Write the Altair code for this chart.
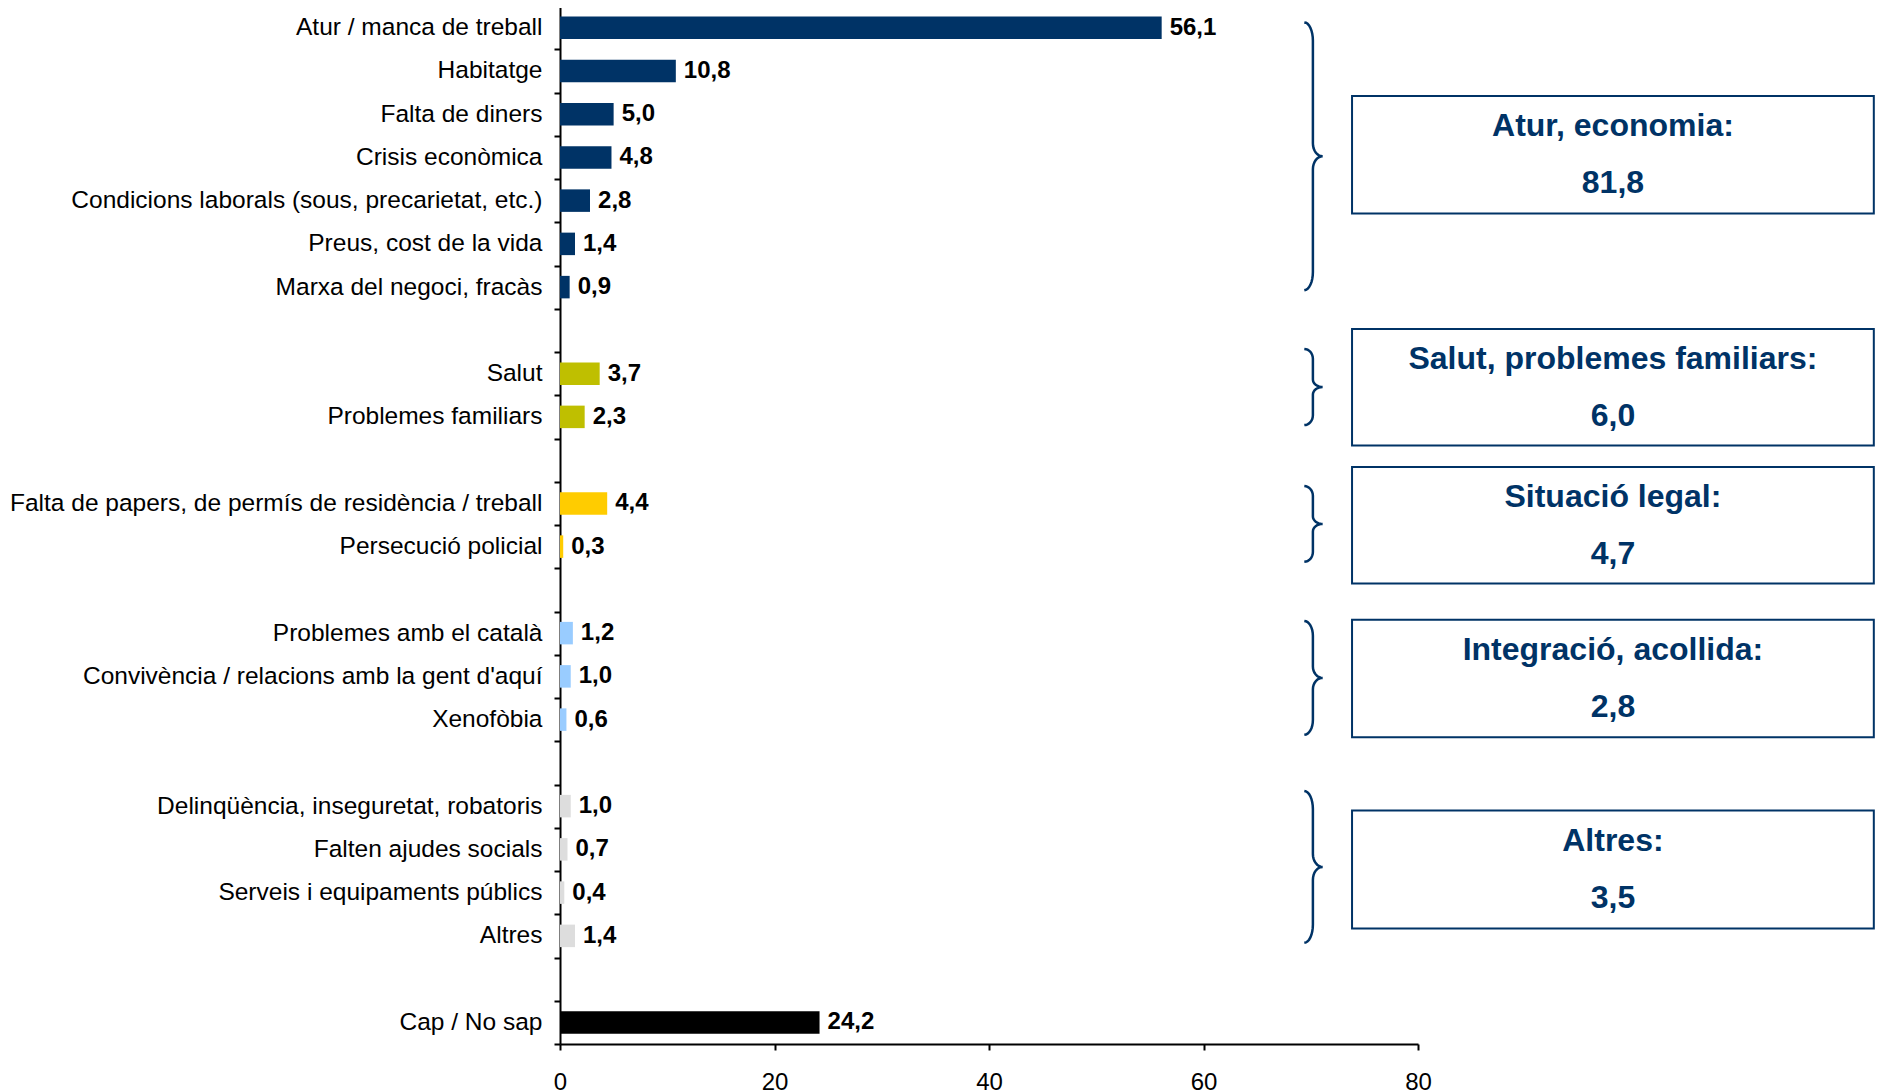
import math
import altair as alt
import pandas as pd

# ---------------- data ----------------
categories = [
    "Atur / manca de treball",
    "Habitatge",
    "Falta de diners",
    "Crisis econòmica",
    "Condicions laborals (sous, precarietat, etc.)",
    "Preus, cost de la vida",
    "Marxa del negoci, fracàs",
    "Salut",
    "Problemes familiars",
    "Falta de papers, de permís de residència / treball",
    "Persecució policial",
    "Problemes amb el català",
    "Convivència / relacions amb la gent d'aquí",
    "Xenofòbia",
    "Delinqüència, inseguretat, robatoris",
    "Falten ajudes socials",
    "Serveis i equipaments públics",
    "Altres",
    "Cap / No sap",
]
values = [56.1, 10.8, 5.0, 4.8, 2.8, 1.4, 0.9,
          3.7, 2.3,
          4.4, 0.3,
          1.2, 1.0, 0.6,
          1.0, 0.7, 0.4, 1.4,
          24.2]
groups = ["eco"] * 7 + ["sal"] * 2 + ["leg"] * 2 + ["int"] * 3 + ["alt"] * 4 + ["cap"]

# y slots (strings of spaces are the blank separator rows)
slot_domain = (categories[0:7] + [" "] + categories[7:9] + ["  "] + categories[9:11]
               + ["   "] + categories[11:14] + ["    "] + categories[14:18] + ["     "]
               + categories[18:19])

group_colors = {"eco": "#003366", "sal": "#BFBF00", "leg": "#FFCC00",
                "int": "#99CCFF", "alt": "#DDDDDD", "cap": "#000000"}

box_titles = ["Atur, economia:", "Salut, problemes familiars:", "Situació legal:",
              "Integració, acollida:", "Altres:"]
box_values = [81.8, 6.0, 4.7, 2.8, 3.5]
# vertical extent of braces / boxes, in row-slot units (0 = top of first row)
brace_top = [0.38, 7.93, 11.10, 14.22, 18.15]
brace_bottom = [6.57, 9.69, 12.85, 16.85, 21.66]
box_top = [2.08, 7.47, 10.66, 14.19, 18.60]
box_bottom = [4.80, 10.16, 13.35, 16.91, 21.33]

x_ticks = [0, 20, 40, 60, 80]

# ---------------- styling constants ----------------
NAVY = "#003366"
FONT = "Liberation Sans"
N_SLOTS = len(slot_domain)
BX_END, BX_SPINE, BX_TIP = 69.4, 70.2, 71.1     # brace x positions (axis units)
BOX_X1, BOX_X2 = 73.85, 122.5                    # box x extent (axis units)

fmt = lambda v: f"{v:.1f}".replace(".", ",")

bars = pd.DataFrame({
    "cat": categories,
    "val": values,
    "color": [group_colors[g] for g in groups],
    "lab": [fmt(v) for v in values],
})

# brace outlines
rows = []
for bid, (top, bot) in enumerate(zip(brace_top, brace_bottom)):
    h = bot - top
    mid = (top + bot) / 2
    rh = min(0.42, 0.13 * h)
    rt = min(0.30, 0.10 * h)
    pts = []
    n = 8
    for i in range(n + 1):
        t = math.pi / 2 * i / n
        pts.append((BX_END + (BX_SPINE - BX_END) * math.sin(t), top + rh * (1 - math.cos(t))))
    for i in range(n + 1):
        t = math.pi / 2 * i / n
        pts.append((BX_TIP - (BX_TIP - BX_SPINE) * math.cos(t), mid - rt + rt * math.sin(t)))
    for i in range(n, -1, -1):
        t = math.pi / 2 * i / n
        pts.append((BX_TIP - (BX_TIP - BX_SPINE) * math.cos(t), mid + rt - rt * math.sin(t)))
    for i in range(n, -1, -1):
        t = math.pi / 2 * i / n
        pts.append((BX_END + (BX_SPINE - BX_END) * math.sin(t), bot - rh * (1 - math.cos(t))))
    for k, (px, py) in enumerate(pts):
        rows.append({"bid": bid, "ord": k, "bx": px, "by": py})
braces = pd.DataFrame(rows)

boxes = pd.DataFrame({
    "x1": [BOX_X1] * 5, "x2": [BOX_X2] * 5,
    "y1": box_top, "y2": box_bottom,
})
box_text_rows = []
for t, v, y1, y2 in zip(box_titles, box_values, box_top, box_bottom):
    c = (y1 + y2) / 2
    box_text_rows.append({"tx": (BOX_X1 + BOX_X2) / 2, "ty": c - 0.66, "t": t})
    box_text_rows.append({"tx": (BOX_X1 + BOX_X2) / 2, "ty": c + 0.66, "t": fmt(v)})
box_text = pd.DataFrame(box_text_rows)

# ---------------- scales / axes ----------------
x_scale = alt.Scale(domain=[0, 80], nice=False, zero=True)
y_band = alt.Scale(domain=slot_domain, paddingInner=0, paddingOuter=0)
y_lin = alt.Scale(domain=[0, N_SLOTS], reverse=True, nice=False, zero=False)

x_axis = alt.Axis(orient="bottom", values=x_ticks, title=None, grid=False, labelFont=FONT,
                  labelFontSize=24, labelColor="black", tickColor="black", tickSize=6,
                  tickWidth=2, domainColor="black", domainWidth=2, labelPadding=20,
                  labelFlush=False)
y_axis = alt.Axis(title=None, tickBand="extent", labelFont=FONT, labelFontSize=24.5,
                  labelColor="black", labelLimit=1000, labelPadding=12, tickColor="black",
                  tickSize=6, tickWidth=2, domainColor="black", domainWidth=2)

X = lambda f: alt.X(f, scale=x_scale, axis=x_axis, title=None)

bar_layer = alt.Chart(bars).mark_bar(size=22.5).encode(
    y=alt.Y("cat:N", scale=y_band, axis=y_axis, sort=slot_domain),
    x=X("val:Q"),
    color=alt.Color("color:N", scale=None),
)

val_layer = alt.Chart(bars).mark_text(
    align="left", baseline="middle", dx=8, font=FONT, fontSize=24, fontWeight="bold",
    color="black",
).encode(
    y=alt.Y("cat:N", scale=y_band, axis=None, sort=slot_domain),
    x=X("val:Q"),
    text="lab:N",
)

brace_layer = alt.Chart(braces).mark_line(
    color=NAVY, strokeWidth=2.5, interpolate="linear"
).encode(
    x=X("bx:Q"),
    y=alt.Y("by:Q", scale=y_lin, axis=None),
    detail="bid:N",
    order="ord:Q",
)

box_layer = alt.Chart(boxes).mark_rect(
    fill="white", stroke=NAVY, strokeWidth=2
).encode(
    x=X("x1:Q"),
    x2="x2:Q",
    y=alt.Y("y1:Q", scale=y_lin, axis=None),
    y2="y2:Q",
)

box_text_layer = alt.Chart(box_text).mark_text(
    align="center", baseline="middle", font=FONT, fontSize=32, fontWeight="bold", color=NAVY
).encode(
    x=X("tx:Q"),
    y=alt.Y("ty:Q", scale=y_lin, axis=None),
    text="t:N",
)

chart = alt.layer(
    bar_layer, val_layer, brace_layer, box_layer, box_text_layer
).resolve_scale(
    y="independent"
).properties(
    width=858, height=1038,
    autosize=alt.AutoSizeParams(type="none"),
    padding={"left": 552, "top": -2, "right": 457, "bottom": 50},
    background="white",
).configure_view(stroke=None)

chart.save("out.html", embed_options={"renderer": "svg", "actions": False})
